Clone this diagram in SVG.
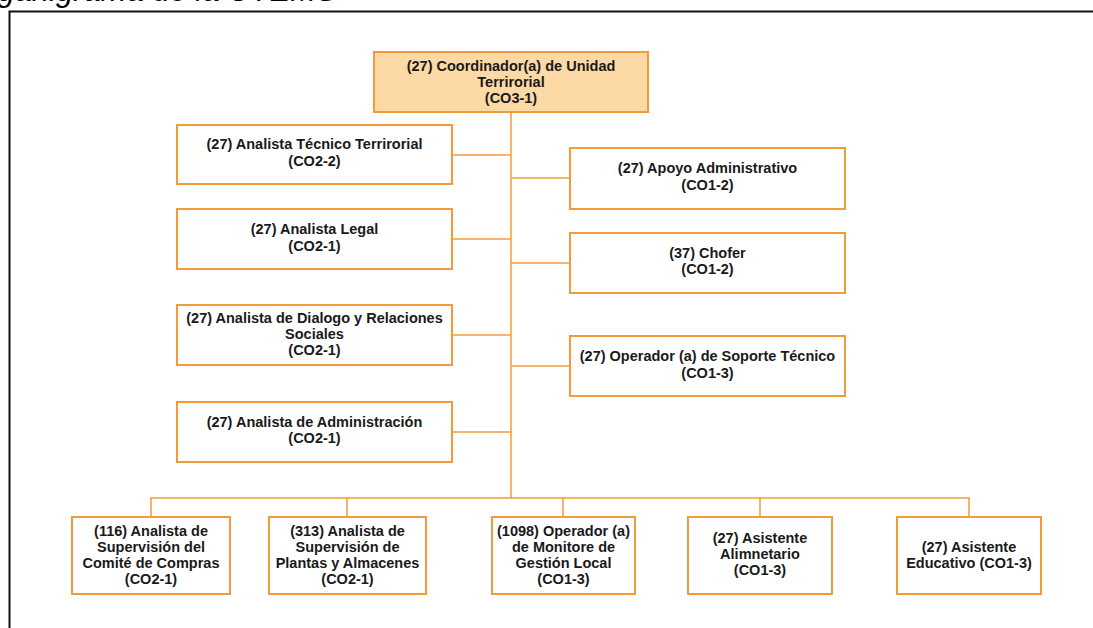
<svg xmlns="http://www.w3.org/2000/svg" width="1093" height="628" viewBox="0 0 1093 628">
<style>
.box{fill:#ffffff;stroke:#F39A3B;stroke-width:2}
.top{fill:#FDD9A5;stroke:#F39A3B;stroke-width:2}
.t{font-family:"Liberation Sans",Arial,sans-serif;font-weight:bold;font-size:14.5px;fill:#1a1a1a;text-anchor:middle}
.c{fill:none;stroke:#F39A3B;stroke-width:1.5}
.title{font-family:"Liberation Sans",Arial,sans-serif;font-style:italic;font-size:31px;fill:#000}
</style>
<rect width="1093" height="628" fill="#ffffff"/>
<text class="title" x="-37" y="1">Organigrama de la UTEMS</text>
<path d="M9.5 628 V11.5 H1093" fill="none" stroke="#111" stroke-width="2"/>
<g id="connectors">
<path class="c" d="M511 112 V498"/>
<path class="c" d="M452 155 H511 M452 239 H511 M452 335 H511 M452 432 H511"/>
<path class="c" d="M511 178 H570 M511 263 H570 M511 366 H570"/>
<path class="c" d="M151 517 V498 H969 V517 M347 498 V517 M563 498 V517 M760 498 V517"/>
</g>
<g id="n0">
<rect class="top" x="374" y="52" width="274" height="60"/>
<text class="t" x="511" y="71">(27) Coordinador(a) de Unidad</text>
<text class="t" x="511" y="87">Terrirorial</text>
<text class="t" x="511" y="103">(CO3-1)</text>
</g>
<g id="n1">
<rect class="box" x="177" y="125" width="275" height="59"/>
<text class="t" x="314.5" y="149">(27) Analista Técnico Terrirorial</text>
<text class="t" x="314.5" y="166">(CO2-2)</text>
</g>
<g id="n2">
<rect class="box" x="177" y="209" width="275" height="60"/>
<text class="t" x="314.5" y="233.5">(27) Analista Legal</text>
<text class="t" x="314.5" y="250.5">(CO2-1)</text>
</g>
<g id="n3">
<rect class="box" x="177" y="305" width="275" height="60"/>
<text class="t" x="314.5" y="323">(27) Analista de Dialogo y Relaciones</text>
<text class="t" x="314.5" y="339">Sociales</text>
<text class="t" x="314.5" y="355">(CO2-1)</text>
</g>
<g id="n4">
<rect class="box" x="177" y="402" width="275" height="60"/>
<text class="t" x="314.5" y="427">(27) Analista de Administración</text>
<text class="t" x="314.5" y="443">(CO2-1)</text>
</g>
<g id="n5">
<rect class="box" x="570" y="148" width="275" height="61"/>
<text class="t" x="707.5" y="173">(27) Apoyo Administrativo</text>
<text class="t" x="707.5" y="190">(CO1-2)</text>
</g>
<g id="n6">
<rect class="box" x="570" y="233" width="275" height="60"/>
<text class="t" x="707.5" y="257.5">(37) Chofer</text>
<text class="t" x="707.5" y="274">(CO1-2)</text>
</g>
<g id="n7">
<rect class="box" x="570" y="336" width="275" height="60"/>
<text class="t" x="707.5" y="361">(27) Operador (a) de Soporte Técnico</text>
<text class="t" x="707.5" y="377.5">(CO1-3)</text>
</g>
<g id="n8">
<rect class="box" x="72" y="517" width="158" height="77"/>
<text class="t" x="151" y="535.5">(116) Analista de</text>
<text class="t" x="151" y="551.5">Supervisión del</text>
<text class="t" x="151" y="567.5">Comité de Compras</text>
<text class="t" x="151" y="583.5">(CO2-1)</text>
</g>
<g id="n9">
<rect class="box" x="269" y="517" width="157" height="77"/>
<text class="t" x="347.5" y="535.5">(313) Analista de</text>
<text class="t" x="347.5" y="551.5">Supervisión de</text>
<text class="t" x="347.5" y="567.5">Plantas y Almacenes</text>
<text class="t" x="347.5" y="583.5">(CO2-1)</text>
</g>
<g id="n10">
<rect class="box" x="492" y="517" width="143" height="77"/>
<text class="t" x="563.5" y="535.5">(1098) Operador (a)</text>
<text class="t" x="563.5" y="551.5">de Monitore de</text>
<text class="t" x="563.5" y="567.5">Gestión Local</text>
<text class="t" x="563.5" y="583.5">(CO1-3)</text>
</g>
<g id="n11">
<rect class="box" x="688" y="517" width="144" height="77"/>
<text class="t" x="760" y="542.5">(27) Asistente</text>
<text class="t" x="760" y="558.5">Alimnetario</text>
<text class="t" x="760" y="574.5">(CO1-3)</text>
</g>
<g id="n12">
<rect class="box" x="897" y="517" width="144" height="77"/>
<text class="t" x="969" y="551.5">(27) Asistente</text>
<text class="t" x="969" y="567.5">Educativo (CO1-3)</text>
</g>
</svg>
